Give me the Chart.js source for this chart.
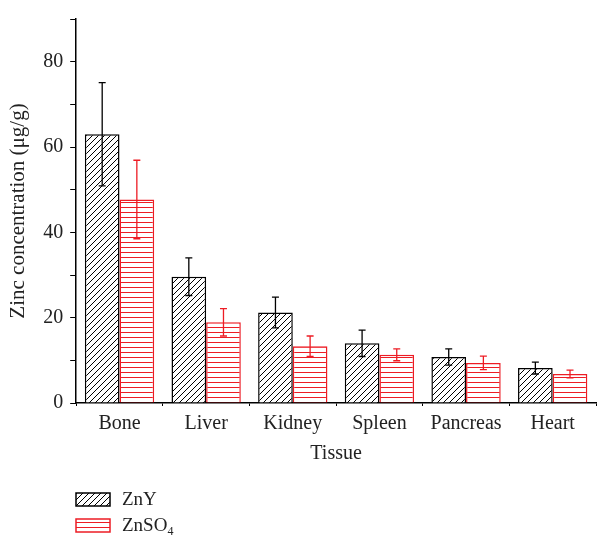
<!DOCTYPE html>
<html>
<head>
<meta charset="utf-8">
<script src="https://cdn.jsdelivr.net/npm/chart.js@4/dist/chart.umd.min.js"></script>
<style>
  html, body { margin: 0; padding: 0; background: #fff; }
  #wrap { width: 597px; height: 535px; }
</style>
</head>
<body>
<div id="wrap"><canvas id="grafica"></canvas></div>
<script>
const tissues = ["Bone", "Liver", "Kidney", "Spleen", "Pancreas", "Heart"];
const znY = [63.0, 29.6, 21.2, 14.0, 10.8, 8.2];
const znYErr = [12.1, 4.4, 3.6, 3.1, 1.9, 1.4];
const znSO4 = [47.7, 18.9, 13.3, 11.3, 9.4, 6.8];
const znSO4Err = [9.2, 3.2, 2.4, 1.4, 1.6, 0.9];
const yTicks = [0, 20, 40, 60, 80];

const FONT = "'Liberation Serif', 'DejaVu Serif', serif";
const RED = "rgb(237, 28, 36)";

function hatch(color, kind) {
    const c = document.createElement("canvas");
    const s = kind === "diag" ? 6 : 5;
    c.width = s; c.height = s;
    const g = c.getContext("2d");
    g.fillStyle = "#fff";
    g.fillRect(0, 0, s, s);
    g.strokeStyle = color;
    g.lineWidth = 1;
    g.beginPath();
    if (kind === "diag") {
        g.moveTo(0, s); g.lineTo(s, 0);
        g.moveTo(-1, 1); g.lineTo(1, -1);
        g.moveTo(s - 1, s + 1); g.lineTo(s + 1, s - 1);
    } else {
        g.moveTo(0, 2.5); g.lineTo(s, 2.5);
    }
    g.stroke();
    return g.createPattern(c, "repeat");
}

const errores = [znYErr, znSO4Err];
const errorBars = {
    id: "errorBars",
    afterDatasetsDraw(chart) {
        const ctx = chart.ctx;
        const y = chart.scales.y;
        chart.data.datasets.forEach((ds, i) => {
            const meta = chart.getDatasetMeta(i);
            ctx.save();
            ctx.strokeStyle = ds.borderColor;
            ctx.lineWidth = 1.3;
            meta.data.forEach((bar, j) => {
                const v = ds.data[j], e = errores[i][j];
                const yt = y.getPixelForValue(v + e), yb = y.getPixelForValue(v - e);
                ctx.beginPath();
                ctx.moveTo(bar.x, yt); ctx.lineTo(bar.x, yb);
                ctx.moveTo(bar.x - 3.5, yt); ctx.lineTo(bar.x + 3.5, yt);
                ctx.moveTo(bar.x - 3.5, yb); ctx.lineTo(bar.x + 3.5, yb);
                ctx.stroke();
            });
            ctx.restore();
        });
    }
};

const leyenda = {
    id: "leyenda",
    afterDraw(chart) {
        const ctx = chart.ctx;
        ctx.save();
        chart.data.datasets.forEach((ds, i) => {
            const top = 493 + i * 26;
            ctx.fillStyle = ds.backgroundColor;
            ctx.fillRect(76, top, 34, 13);
            ctx.strokeStyle = ds.borderColor;
            ctx.lineWidth = 1.5;
            ctx.strokeRect(76, top, 34, 13);
            ctx.fillStyle = "#222";
            ctx.font = "19px " + FONT;
            ctx.textBaseline = "alphabetic";
            const base = top + 12;
            if (i === 0) {
                ctx.fillText(ds.label, 122, base);
            } else {
                ctx.fillText("ZnSO", 122, base);
                const w = ctx.measureText("ZnSO").width;
                ctx.font = "12px " + FONT;
                ctx.fillText("4", 122 + w, base + 4);
            }
        });
        ctx.restore();
    }
};

new Chart(document.getElementById("grafica"), {
    type: "bar",
    data: {
        labels: tissues,
        datasets: [
            { label: "ZnY", data: znY, backgroundColor: hatch("#000", "diag"), borderColor: "#000", borderWidth: 1.5, borderSkipped: "bottom" },
            { label: "ZnSO4", data: znSO4, backgroundColor: hatch(RED, "horiz"), borderColor: RED, borderWidth: 1.5, borderSkipped: "bottom" }
        ]
    },
    options: {
        responsive: true,
        maintainAspectRatio: false,
        animation: false,
        layout: { padding: { left: 2, right: 1, top: 10, bottom: 65 } },
        datasets: { bar: { categoryPercentage: 0.8, barPercentage: 1.0 } },
        plugins: {
            legend: { display: false },
            tooltip: { enabled: false }
        },
        scales: {
            x: {
                offset: true,
                grid: { display: true, drawOnChartArea: false, offset: true, tickLength: 3, color: "#000" },
                border: { color: "#000", width: 1.5 },
                ticks: { color: "#222", font: { family: FONT, size: 20 }, padding: 6 },
                title: { display: true, text: "Tissue", color: "#222", font: { family: FONT, size: 20 }, padding: { top: 0 } }
            },
            y: {
                min: 0,
                max: 90,
                afterBuildTicks(axis) {
                    axis.ticks = [0, 10, 20, 30, 40, 50, 60, 70, 80, 90].map(v => ({ value: v }));
                },
                grid: { display: true, drawOnChartArea: false, tickLength: 6, color: "#000" },
                border: { color: "#000", width: 1.5 },
                ticks: {
                    color: "#222",
                    font: { family: FONT, size: 20 },
                    padding: 7,
                    callback: v => (yTicks.includes(v) ? String(v) : "")
                },
                title: { display: true, text: "Zinc concentration (μg/g)", color: "#222", font: { family: FONT, size: 21 }, padding: { bottom: 5 } }
            }
        }
    },
    plugins: [errorBars, leyenda]
});
</script>
</body>
</html>
